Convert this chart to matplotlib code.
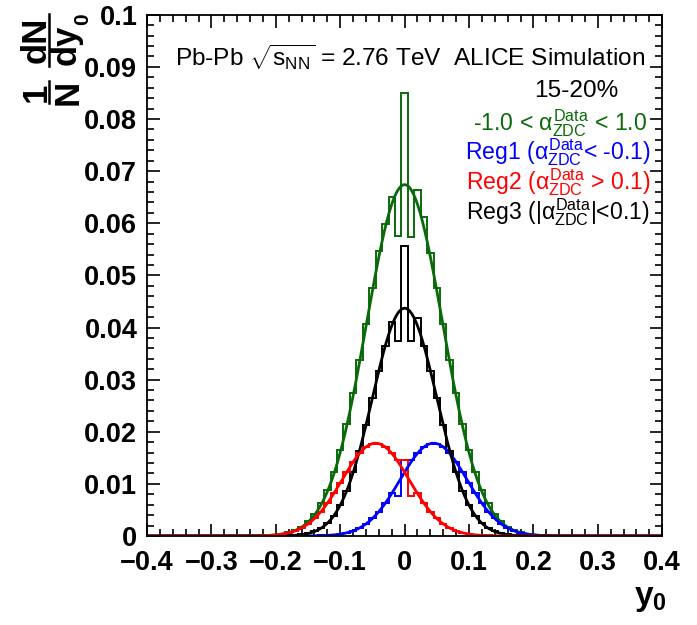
import numpy as np
import matplotlib
matplotlib.use("Agg")
import matplotlib.pyplot as plt
from matplotlib.lines import Line2D

plt.rcParams['font.family'] = ['Liberation Sans', 'DejaVu Sans']
plt.rcParams['mathtext.fontset'] = 'custom'
plt.rcParams['mathtext.rm'] = 'Liberation Sans'
plt.rcParams['mathtext.it'] = 'Liberation Sans'  # upright greek like ROOT
plt.rcParams['mathtext.bf'] = 'Liberation Sans:bold'

# bin centres of y0 histograms (width 0.01)
y0_bins = np.round(np.arange(-25, 26) * 0.01, 2)

# 1/N dN/dy0, bins -0.25 ... 0.25
h_all = [0.0000, 0.0000, 0.0000, 0.0001, 0.0001, 0.0002, 0.0004, 0.0007, 0.0011, 0.0018,
         0.0028, 0.0043, 0.0063, 0.0089, 0.0123, 0.0165, 0.0215, 0.0274, 0.0338, 0.0407,
         0.0476, 0.0546, 0.0598, 0.0650, 0.0575, 0.0850, 0.0573, 0.0663, 0.0612, 0.0543,
         0.0476, 0.0407, 0.0338, 0.0274, 0.0215, 0.0165, 0.0123, 0.0089, 0.0063, 0.0043,
         0.0028, 0.0018, 0.0011, 0.0007, 0.0004, 0.0002, 0.0001, 0.0001, 0.0000, 0.0000, 0.0000]
h_reg1 = [0.0000, 0.0000, 0.0000, 0.0000, 0.0000, 0.0000, 0.0000, 0.0000, 0.0000, 0.0000,
          0.0000, 0.0000, 0.0001, 0.0001, 0.0002, 0.0004, 0.0006, 0.0010, 0.0015, 0.0023,
          0.0034, 0.0047, 0.0063, 0.0082, 0.0077, 0.0145, 0.0145, 0.0159, 0.0171, 0.0177,
          0.0177, 0.0171, 0.0159, 0.0142, 0.0122, 0.0102, 0.0082, 0.0063, 0.0047, 0.0034,
          0.0023, 0.0015, 0.0010, 0.0006, 0.0004, 0.0002, 0.0001, 0.0001, 0.0000, 0.0000, 0.0000]
h_reg2 = [0.0000, 0.0000, 0.0000, 0.0001, 0.0001, 0.0002, 0.0004, 0.0006, 0.0010, 0.0015,
          0.0023, 0.0034, 0.0047, 0.0063, 0.0082, 0.0102, 0.0122, 0.0142, 0.0159, 0.0171,
          0.0177, 0.0177, 0.0171, 0.0159, 0.0145, 0.0145, 0.0077, 0.0082, 0.0063, 0.0047,
          0.0034, 0.0023, 0.0015, 0.0010, 0.0006, 0.0004, 0.0002, 0.0001, 0.0001, 0.0000,
          0.0000, 0.0000, 0.0000, 0.0000, 0.0000, 0.0000, 0.0000, 0.0000, 0.0000, 0.0000, 0.0000]
h_reg3 = [0.0000, 0.0000, 0.0000, 0.0000, 0.0000, 0.0000, 0.0000, 0.0001, 0.0001, 0.0003,
          0.0005, 0.0009, 0.0015, 0.0025, 0.0039, 0.0059, 0.0087, 0.0122, 0.0164, 0.0213,
          0.0265, 0.0317, 0.0365, 0.0410, 0.0374, 0.0557, 0.0374, 0.0418, 0.0365, 0.0317,
          0.0265, 0.0213, 0.0164, 0.0122, 0.0087, 0.0059, 0.0039, 0.0025, 0.0015, 0.0009,
          0.0005, 0.0003, 0.0001, 0.0001, 0.0000, 0.0000, 0.0000, 0.0000, 0.0000, 0.0000, 0.0000]

# gaussian fit parameters: amplitude, mean, sigma
fit_all = (0.0674, 0.0, 0.059)
fit_reg1 = (0.0178, 0.045, 0.052)
fit_reg2 = (0.0178, -0.045, 0.052)
fit_reg3 = (0.0437, 0.0, 0.050)

c_green = '#0a6a0a'
c_blue = '#0000ff'
c_red = '#ff0000'
c_black = '#000000'

W, H = 697, 625
fig = plt.figure(figsize=(W / 100, H / 100), dpi=100)
ax = fig.add_axes([0.211, 0.1424, 0.739, 0.834])

edges = np.append(y0_bins - 0.005, y0_bins[-1] + 0.005)
for h, c in [(h_all, c_green), (h_reg1, c_blue), (h_reg3, c_black), (h_reg2, c_red)]:
    ax.stairs(h, edges, color=c, lw=1.4, baseline=None)

xx = np.linspace(-0.4, 0.4, 801)
def gaus(p, x):
    return p[0] * np.exp(-0.5 * ((x - p[1]) / p[2]) ** 2)

for p, c in [(fit_all, c_green), (fit_reg1, c_blue), (fit_reg3, c_black), (fit_reg2, c_red)]:
    ax.plot(xx, gaus(p, xx), color=c, lw=2.0)

ax.set_xlim(-0.4, 0.4)
ax.set_ylim(0, 0.1)
ax.set_xticks(np.arange(-0.4, 0.41, 0.1))
ax.set_xticklabels(['\u22120.4', '\u22120.3', '\u22120.2', '\u22120.1', '0', '0.1', '0.2', '0.3', '0.4'])
ax.set_xticks(np.arange(-0.4, 0.401, 0.02), minor=True)
ax.set_yticks(np.arange(0, 0.101, 0.01))
ax.set_yticklabels(['0', '0.01', '0.02', '0.03', '0.04', '0.05', '0.06', '0.07', '0.08', '0.09', '0.1'])
ax.set_yticks(np.arange(0, 0.1001, 0.002), minor=True)
ax.tick_params(which='both', direction='in', top=True, right=True, width=1.2)
ax.tick_params(which='major', length=9, labelsize=19.5)
ax.tick_params(axis='x', which='major', pad=10)
ax.tick_params(axis='y', which='major', pad=7)
ax.tick_params(which='minor', length=5)
for lab in ax.get_xticklabels() + ax.get_yticklabels():
    lab.set_fontweight('bold')
for s in ax.spines.values():
    s.set_linewidth(1.3)

ax.text(-0.357, 0.0901, r'Pb-Pb $\sqrt{\mathrm{s}_{\mathrm{NN}}}$ = 2.76 TeV  ALICE Simulation',
        fontsize=17.6, ha='left', va='baseline')
ax.text(0.267, 0.0843, '15-20%', fontsize=17.6, ha='center', va='baseline')
ax.text(0.377, 0.0779, r'-1.0 < $\alpha^{\mathrm{Data}}_{\mathrm{ZDC}}$ < 1.0', color=c_green,
        fontsize=16.6, ha='right', va='baseline')
ax.text(0.382, 0.0722, r'Reg1 ($\alpha^{\mathrm{Data}}_{\mathrm{ZDC}}$< -0.1)', color=c_blue,
        fontsize=16.6, ha='right', va='baseline')
ax.text(0.382, 0.0664, r'Reg2 ($\alpha^{\mathrm{Data}}_{\mathrm{ZDC}}$ > 0.1)', color=c_red,
        fontsize=16.6, ha='right', va='baseline')
ax.text(0.38, 0.0607, r'Reg3 (|$\alpha^{\mathrm{Data}}_{\mathrm{ZDC}}$|<0.1)', color=c_black,
        fontsize=16.6, ha='right', va='baseline')

# y title 1/N dN/dy0, written sideways piece by piece (ROOT style)
def ytitle_piece(s, px, py, size):
    fig.text(px / W, 1 - py / H, s, rotation=90, rotation_mode='anchor',
             ha='center', va='baseline', fontsize=size, fontweight='bold')

ytitle_piece('dN', 46, 40, 25)
ytitle_piece('dy', 76, 45, 25)
ytitle_piece('0', 88, 19, 15)
ytitle_piece('1', 46, 92, 25)
ytitle_piece('N', 78, 92, 25)
fig.add_artist(Line2D([49 / W, 49 / W], [1 - 14 / H, 1 - 66 / H], color='k', lw=1.8))
fig.add_artist(Line2D([49 / W, 49 / W], [1 - 81 / H, 1 - 103 / H], color='k', lw=1.8))

fig.text(650 / W, 1 - 598 / H, r'$\mathbf{y_{0}}$', ha='center', va='center', fontsize=24)

fig.savefig('out.png', dpi=100)
